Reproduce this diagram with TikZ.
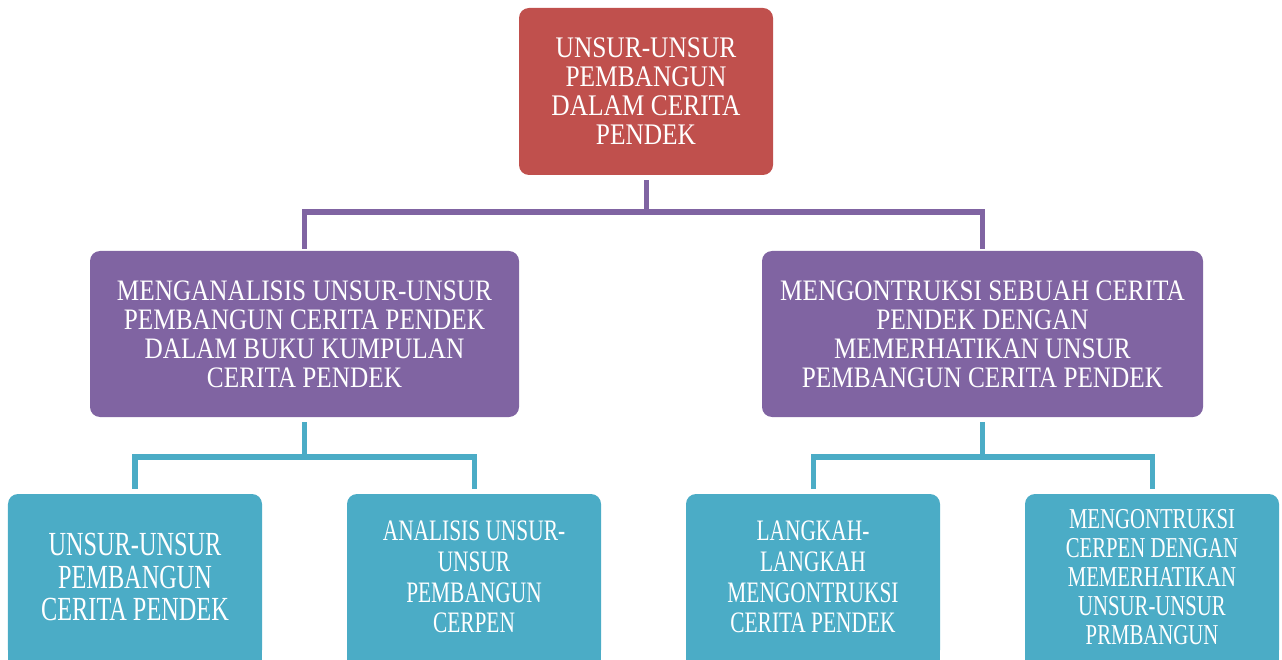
\documentclass[tikz,border=0pt]{standalone}
\usepackage{fontspec}
\setmainfont{Liberation Serif}[FakeStretch=0.85]
\newfontfamily\sempit{Liberation Serif}[FakeStretch=0.72]
\usepackage{tikz}
\usetikzlibrary{positioning}

\definecolor{merah}{HTML}{C0504D}
\definecolor{ungu}{HTML}{8064A2}
\definecolor{biru}{HTML}{4BACC6}

\begin{document}
\begin{tikzpicture}[semithick,
  kotak/.style={rounded corners=0.2cm,inner sep=0pt,outer sep=0pt,align=center,text=white},
  induk/.style={kotak,fill=merah,minimum width=5.08cm,minimum height=3.34cm,font=\fontsize{17}{16.5}\selectfont},
  cabang/.style={kotak,fill=ungu,minimum height=3.32cm,font=\fontsize{16.9}{16.5}\selectfont},
  ranting/.style={kotak,fill=biru,minimum width=5.08cm,minimum height=3.32cm,font=\sempit\fontsize{16.9}{17.5}\selectfont},
  garisungu/.style={draw=ungu,line width=2.85pt,shorten <=3pt,shorten >=1pt},
  garisbiru/.style={draw=biru,line width=2.85pt,shorten <=3pt,shorten >=3pt}]
\clip (0,0) rectangle (25.64,-13.2);

\node[induk] (pusat) at (12.92,-1.83) {UNSUR-UNSUR\\PEMBANGUN\\DALAM CERITA\\PENDEK};
\node[cabang,minimum width=8.58cm] (kiri) [below=1.52cm of pusat,xshift=-6.83cm]
  {MENGANALISIS UNSUR-UNSUR\\PEMBANGUN CERITA PENDEK\\DALAM BUKU KUMPULAN\\CERITA PENDEK};
\node[cabang,minimum width=8.82cm] (kanan) [below=1.52cm of pusat,xshift=6.73cm]
  {MENGONTRUKSI SEBUAH CERITA\\PENDEK DENGAN\\MEMERHATIKAN UNSUR\\PEMBANGUN CERITA PENDEK};

\node[ranting,font=\sempit\fontsize{19.2}{18.3}\selectfont] (unsur) [below=1.54cm of kiri,xshift=-3.39cm]
  {UNSUR-UNSUR\\PEMBANGUN\\CERITA PENDEK};
\node[ranting] (analisis) [below=1.54cm of kiri,xshift=3.39cm]
  {ANALISIS UNSUR-\\UNSUR\\PEMBANGUN\\CERPEN};
\node[ranting] (langkah) [below=1.54cm of kanan,xshift=-3.39cm]
  {LANGKAH-\\LANGKAH\\MENGONTRUKSI\\CERITA PENDEK};
\node[ranting,font=\sempit\fontsize{16.4}{16.6}\selectfont] (susun) [below=1.54cm of kanan,xshift=3.39cm]
  {MENGONTRUKSI\\CERPEN DENGAN\\MEMERHATIKAN\\UNSUR-UNSUR\\PRMBANGUN};

% kotak bawah terpotong tepi gambar
\foreach \k in {unsur,analisis,langkah,susun}
  \fill[biru] ([yshift=0.3cm]\k.south west) rectangle (\k.south east);

% garis penghubung
\draw[garisungu] (pusat.south) -- ++(0,-0.74) -| (kiri.north);
\draw[garisungu] (pusat.south) -- ++(0,-0.74) -| (kanan.north);
\draw[garisbiru] (kiri.south) -- ++(0,-0.8) -| (unsur.north);
\draw[garisbiru] (kiri.south) -- ++(0,-0.8) -| (analisis.north);
\draw[garisbiru] (kanan.south) -- ++(0,-0.8) -| (langkah.north);
\draw[garisbiru] (kanan.south) -- ++(0,-0.8) -| (susun.north);

\end{tikzpicture}
\end{document}
